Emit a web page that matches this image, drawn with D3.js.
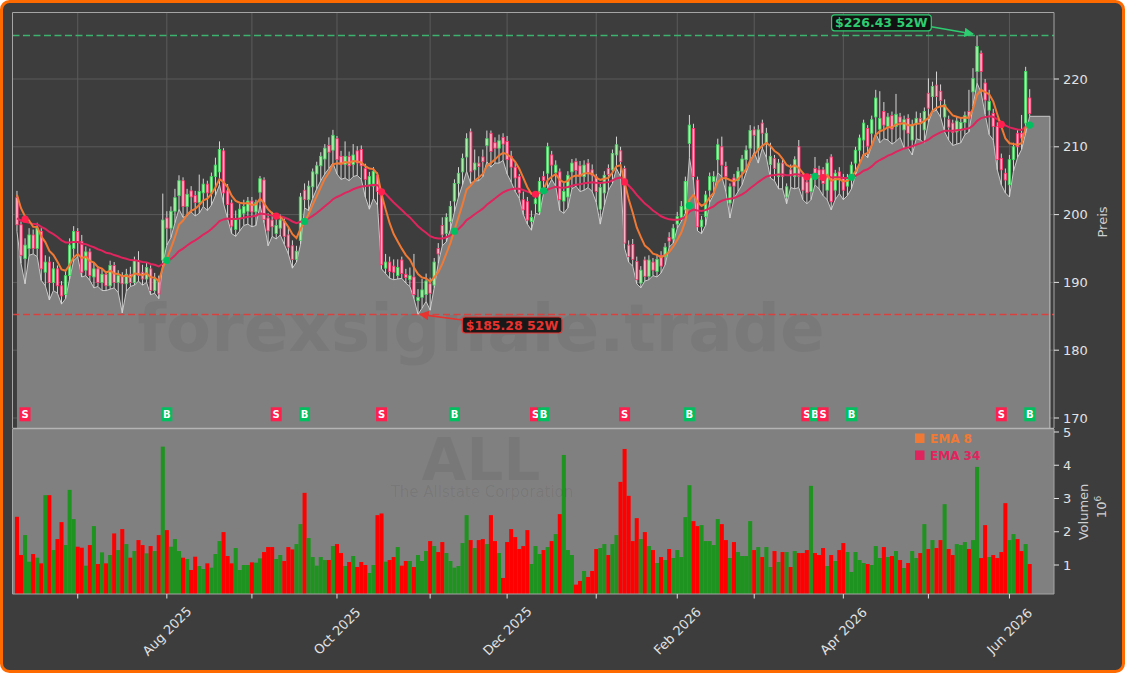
<!DOCTYPE html>
<html>
<head>
<meta charset="utf-8">
<title>ALL - The Allstate Corporation</title>
<script src="https://d3js.org/d3.v7.min.js"></script>
<style>
  body { margin: 0; background: #ffffff; font-family: "DejaVu Sans", sans-serif; }
  svg { display: block; }
</style>
</head>
<body>
<div id="chart"></div>
<script>
// daily OHLC + volume (10^6), Jun 9 2025 .. Jun 8 2026, one value per trading day
var open = [
  202.5,198.5,193.5,195,197,195,197.5,191.5,193,190,
  192,189.5,188.2,191,195,197.5,196,191.8,194.5,190.8,
  192,190,191.2,189.5,192.5,190,191,189.8,191.2,190,
  193.2,191.5,190.5,192,188.8,190.5,193.3,199.5,198,200.5,
  202.8,205,201.2,203.5,202.8,201.8,203.2,204.5,203.2,205.6,
  206.3,209.4,203.5,201.7,197.8,199.4,200.2,200.5,202,200.4,
  203.3,205.1,199.5,199.2,197.2,198,199,197,195.4,193.4,
  196.2,203.6,202.2,204.1,206,207.2,208.2,210.2,209.5,211.2,
  208.6,207.4,208.6,207.4,209.4,209.6,206.8,204.4,204.2,205.8,
  203.1,192.1,193,192.4,191,193.3,191.2,190.4,190.8,187.3,
  187.8,188.2,189.8,189.6,195,198.4,197.2,199,202,204.6,
  206.3,208.5,212.2,206.6,207.6,208.5,210.2,212,210.6,209.8,
  211.4,210.8,208.6,207,205.6,202.2,201.9,199,201.6,200.4,
  205.6,206.1,208.8,206.2,206.3,202,202.6,206.3,207.8,207.2,
  205.6,207.6,206.6,205.6,200.8,203.2,206.8,206.6,208.8,209.4,
  206.8,195.5,195.6,193.1,189.9,193.3,190.9,193,191.6,194,
  193.8,196.6,196.4,198.6,199.6,200.7,210.5,212.7,205.1,198.2,
  199.7,203.6,204.9,208.1,210,207.1,201.7,205.4,205,206.4,
  208.1,209.8,212.5,209.5,213.5,210.4,207.4,208.3,205.6,207.6,
  202.6,206.6,205.6,210,205.6,204.8,203.4,206.8,206.6,206.6,
  203.6,208.5,203.6,206.3,205.4,204.2,205.4,207.6,209.5,211,
  212.7,212,214.4,212.6,215.2,213,214.6,213,214.4,212.5,
  214.2,211,213.4,214.2,212.5,217.9,217.4,219.1,218.2,214.4,
  214,213.5,212.2,212.4,213.6,215.2,218.1,221.1,223.8,219.4,
  215.4,214.9,213,208.3,206.1,204.4,208.1,212,212,213.5,
  217.2
];
var high = [
  203.5,199,196.5,198,197.8,198.8,198,194,193.8,193,
  192.5,190.2,191.8,196.5,198.3,198,197,195.3,195,193,
  192.4,192,191.6,193.2,193,191.8,191.5,192,192.3,193.8,
  194.6,192.6,193,192.5,191.4,191,203.1,200.5,201.2,203.8,
  205.8,205.5,203.8,204.2,203.5,205.9,205.3,205,206.2,208.4,
  210.8,209.8,204.5,202.2,200.6,201.6,202.2,202.6,202.6,202.2,
  205.7,205.5,200.2,200.4,199.8,200,199.6,198.2,196.2,195.4,
  203.2,204.6,205,206.8,207.8,209.2,210.4,211.4,212.5,211.6,
  209.4,210.8,209.3,210.4,210.1,210.2,207.5,206.3,207,206.2,
  203.6,194.2,193.8,193.4,193.4,193.8,192,192.2,194.2,189,
  190.5,191.3,190.7,193.6,195.8,199.6,200.2,202,205.2,207,
  209,212,212.7,209.6,208.6,209.6,212.4,212.4,211.4,211.8,
  212,211.6,209.4,207.8,206,203.4,202.6,200.6,203,205.5,
  206.4,210.6,209.4,208,206.8,204.8,206.4,208.2,208.3,207.9,
  208,208.2,207.4,206,204.6,206.4,207.4,209.6,211.5,210,
  207.2,196.2,196.4,193.8,192.4,193.8,194,193.6,194.2,194.6,
  195.8,197.4,198.6,200.4,202,205.6,214.7,213.4,205.6,199.8,
  203.5,206.2,206.4,211.2,211.5,207.8,204.6,206,207,208.8,
  210.2,213.2,213,213.2,214,212.8,210.6,208.8,208.2,208.2,
  204.6,207.4,208.6,211,206.2,205.2,206,208.5,207.2,207,
  208.2,208.9,206.6,207,206,206,207.8,210,211.8,214,
  213.2,214.6,218.4,218.2,216.6,215,215.2,217.8,215,214.6,
  214.8,214,215.2,215,215.8,220.1,219.6,221.1,219.2,217,
  214.6,214,214.4,214.3,215.2,218.4,221.6,226.43,224.2,220,
  218.4,215.6,213.6,209,206.8,208.8,210.6,212.6,214.7,221.8,
  218.5
];
var low = [
  197.5,192.8,189.8,194,194.2,193.8,190.3,189.5,187.4,188.8,
  188.4,186.8,187.6,190.5,193.2,193.8,190.8,191,190.3,189.2,
  189.4,188.8,188.8,189,189.2,188.5,185.5,188.7,189.4,189.6,
  190.2,189.6,190,188.2,188.4,187.6,192.8,195.5,196.6,198.8,
  200.8,199.6,199.8,200.4,199.8,200.2,201.2,200.6,201.4,202.8,
  204.4,201.6,199.4,197.2,196.8,197.6,198.4,198.6,198.2,198.4,
  201.4,198.8,195.4,196.8,196.4,197,195.6,194.2,192.1,193,
  195.6,201,200.6,202.4,203.8,205,206,206.8,207.6,206,
  205.2,205.4,205,205.6,205.8,205.2,202.6,200.8,202.4,201.4,
  192,191.3,190.6,190.4,190.5,190.6,189.9,189.4,187.6,185.28,
  186.2,187.2,185.9,189.2,192.8,195.4,196,197.8,200.4,202.6,
  204.4,206.4,204.6,205,205,205.6,207.8,207,207.6,207.6,
  208,206,204.8,203.4,202.4,200,198.6,197.7,200.2,200,
  203.2,204,205.2,204.2,200.6,200.2,201,203.8,204.2,203.4,
  203.6,204,203.4,201.8,198.6,201.4,203.6,204.6,206.8,205.6,
  195,193,192.4,189.8,189.2,190.2,190.4,191,190.8,191.4,
  192.6,195.2,195.8,198,199,200.2,208.4,205,197.6,197.2,
  198.4,201.8,203,206.2,205.6,203.4,199.5,202.4,203.4,204.4,
  206.2,207.8,209.2,207.6,209.8,208.4,205.4,205,203.8,203.8,
  201.6,204,203.8,204,202.2,201.6,202.2,204.4,203.8,202.8,
  202.2,200.7,202.2,203.1,202.2,202.8,203.8,205.8,207.6,209,
  208.4,210.2,212,210.6,211.2,211,210.4,210.8,211.4,209.8,
  209.8,208.8,211.2,211,210.6,213.6,215.2,215.4,214.4,212.2,
  211,210.2,210.4,210.6,211.8,212.2,216,219.4,218,214.8,
  211.8,211,206.6,204.4,203.2,202.6,206.4,208.4,209.6,212,
  214.5
];
var close = [
  198.5,194,195.5,197,195,198,192,193,190,192,
  189.5,188,191,195.5,197.5,196,191.5,194.5,191,192,
  190,191.2,189.5,192.5,190,191,189.8,191.2,190,193.2,
  191,190.5,192.2,188.8,190.5,188.3,199.2,198,200.5,202.5,
  205,201.2,203,202.6,201.8,203.4,204.5,203.2,205.6,207.3,
  209.6,203.2,201.5,198.3,199.4,200.8,201.2,202,200.4,201.8,
  205.3,199.3,197.6,198.2,198.4,199.2,196.8,195.2,193.4,194.6,
  202.6,202.2,204.2,206.3,207.2,208.6,209.8,209.2,211.7,208.1,
  207.4,208.6,207.2,208.8,207.6,207.2,205.2,205.6,206.4,203.4,
  192.6,193,191.6,191.5,192.2,191.3,190.7,191,188.2,187.8,
  188.9,190.2,188.4,193,194.2,197,199.6,201.2,204.6,206.1,
  208.3,211.2,206.3,207.6,207.1,207.8,211.2,209.3,209.8,210.9,
  210.4,208.1,207,205.4,203.2,200.7,199.2,199.6,202.3,204.9,
  205,210,207.3,207.3,202.2,203.4,205.8,207.6,206.5,205.6,
  207.3,206.2,205.8,203.4,204,205.8,205.9,209,210.3,207.8,
  195.8,193.8,193.4,190.4,191.8,190.9,193.3,191.8,193.4,192.4,
  195.2,196.1,198,199.7,201.2,204.9,213.2,205.6,198.2,199.2,
  202.9,205.6,205.6,210.3,207.3,205.6,204.1,204.2,206.4,208.2,
  209.5,212.4,211.7,212.5,212,212,208.6,206.8,207.6,205.6,
  204.1,205.9,208.1,205.6,203.6,203.2,205.5,206.1,205.4,204.6,
  207.6,201.9,206.1,205.3,203.6,205.4,207.3,209.5,211.3,213.5,
  210.1,214,217.2,214.2,213.2,214.4,212.6,214.8,213.6,214,
  212,213.2,214.2,213.6,215.2,215.7,218.9,217.4,216.8,216.2,
  212.9,212.1,213.8,213.6,214.6,214.2,220.1,224.8,221.1,216.9,
  216.7,213,208.1,206.6,205.1,208.1,210,210,211.3,221.1,
  214.9
];
var volume = [
  2.45,1.3,1.9,1.1,1.33,1.22,1.05,3.1,3.1,1.45,
  1.78,2.29,1.6,3.26,2.38,1.55,1.52,0.98,1.6,2.17,
  1.03,1.38,1.05,1.3,1.95,1.45,2.08,1.63,1.22,1.42,
  1.75,1.6,1.35,1.57,1.42,1.9,4.56,2.05,1.55,1.78,
  1.42,1.22,1.18,0.85,1.25,0.97,0.88,1.05,0.92,1.33,
  1.72,1.99,1.27,1.05,1.51,0.85,1.0,1.0,1.08,1.07,
  1.2,1.39,1.54,1.54,1.18,1.3,1.12,1.54,1.47,1.63,
  2.23,3.17,1.81,1.24,0.98,1.24,1.15,1.15,1.57,1.63,
  1.36,0.97,1.09,1.27,0.94,1.09,1.0,0.76,1.0,2.5,
  2.55,1.1,1.15,1.24,1.54,0.98,1.12,1.12,0.94,1.3,
  1.12,1.42,1.72,1.57,1.39,1.69,1.36,1.12,0.92,0.97,
  1.66,2.5,1.75,1.51,1.75,1.78,1.63,2.5,1.72,1.36,
  0.61,1.69,2.08,1.84,1.48,1.57,2.05,1.03,1.57,1.33,
  1.45,1.54,1.72,1.93,2.53,4.31,1.45,1.3,0.41,0.52,
  0.82,0.64,0.82,1.48,1.51,1.63,1.3,1.63,1.9,3.5,
  4.49,3.08,1.72,2.41,1.78,1.99,1.57,1.45,1.06,1.24,
  1.15,1.48,1.21,1.45,1.24,2.44,3.4,2.32,2.17,2.2,
  1.72,1.72,1.6,2.38,2.23,1.75,1.21,1.69,1.39,1.27,
  1.27,2.32,1.45,1.54,1.24,1.54,0.94,1.42,1.09,1.39,
  1.39,0.94,1.42,1.36,1.36,1.45,3.38,1.36,1.3,1.51,
  0.97,1.3,1.12,1.45,1.66,1.39,0.79,1.39,1.15,1.06,
  1.03,1.0,1.57,1.21,1.54,1.24,1.27,1.42,1.15,0.91,
  1.06,1.42,1.21,1.36,2.23,1.48,1.75,1.51,1.75,2.83,
  1.48,1.3,1.63,1.6,1.69,1.48,1.75,3.95,1.21,2.2,
  1.24,1.3,1.21,1.39,2.86,1.75,1.93,1.78,1.42,1.63,
  1.03
];

// EMA state carried in from before the visible window
var ema8Seed = 204.2, ema34Seed = 199.5;

// crossover signals (bar index, type)
var sigIdx = [2, 37, 64, 71, 90, 108, 128, 130, 150, 166, 195, 197, 199, 206, 243, 250];
var sigType = ["S","B","S","B","S","B","S","B","S","B","S","B","S","B","S","B"];

// month ticks (bar index of first trading day) and labels
var monthIdx = [15, 37, 58, 79, 102, 121, 143, 163, 182, 204, 225, 245];
var monthLabels = ["", "Aug 2025", "", "Oct 2025", "", "Dec 2025", "", "Feb 2026", "", "Apr 2026", "", "Jun 2026"];

var priceTicks = [170, 180, 190, 200, 210, 220];
var volTicks = [1, 2, 3, 4, 5];

var W = 1125, H = 673;
var pane = {left: 12.5, right: 1054, top: 12.5, bottom: 428};
var vpane = {top: 429, bottom: 594};

var col = {
    bg: "#3d3d3d", grid: "#5b5b5b", area: "#808080", areaLine: "#c9c9c9",
    ema8: "#f07a35", ema34: "#e0245e", sell: "#ff1f4f", buy: "#00c060",
    volUp: "#1f931f", volDown: "#ff0000", text: "#e2e2e2"
};

var svg = d3.select("#chart").append("svg")
    .attr("width", W)
    .attr("height", H)
    .style("font-family", "'DejaVu Sans', sans-serif");

var defs = svg.append("defs");
defs.append("clipPath").attr("id", "clipP").append("rect")
    .attr("x", pane.left).attr("y", pane.top)
    .attr("width", pane.right - pane.left).attr("height", pane.bottom - pane.top);
defs.append("clipPath").attr("id", "clipV").append("rect")
    .attr("x", pane.left).attr("y", vpane.top)
    .attr("width", pane.right - pane.left).attr("height", vpane.bottom - vpane.top);

function arrowMarker(id, color) {
    defs.append("marker")
        .attr("id", id)
        .attr("viewBox", "0 0 10 10")
        .attr("refX", 9).attr("refY", 5)
        .attr("markerWidth", 6).attr("markerHeight", 6)
        .attr("orient", "auto")
        .append("path").attr("d", "M0,0 L10,5 L0,10 z").attr("fill", color);
}
arrowMarker("arrG", "#2ecc71");
arrowMarker("arrR", "#e8332f");

// frame
svg.append("rect")
    .attr("x", 1.5).attr("y", 1.5)
    .attr("width", W - 3).attr("height", H - 3)
    .attr("rx", 8)
    .attr("fill", col.bg)
    .attr("stroke", "#ff6a00")
    .attr("stroke-width", 3);

var x = d3.scaleLinear().domain([-1.1, 256]).range([pane.left, pane.right]);
var step = x(1) - x(0);
var y = d3.scaleLinear().domain([168.525, 229.81]).range([pane.bottom, pane.top]);
var yv = d3.scaleLinear().domain([0.128, 5.09]).range([vpane.bottom, vpane.top]);

// EMAs
function ema(values, n, seed) {
    var a = 2 / (n + 1), prev = seed;
    return values.map(function (v) {
        prev = prev + a * (v - prev);
        return prev;
    });
}
var ema8 = ema(close, 8, ema8Seed);
var ema34 = ema(close, 34, ema34Seed);

// ---------- price panel ----------
var gP = svg.append("g").attr("clip-path", "url(#clipP)");

gP.selectAll(".hgrid").data(priceTicks).enter().append("line")
    .attr("x1", pane.left).attr("x2", pane.right)
    .attr("y1", function (d) { return y(d); })
    .attr("y2", function (d) { return y(d); })
    .attr("stroke", col.grid).attr("stroke-width", 1);

gP.selectAll(".vgrid").data(monthIdx).enter().append("line")
    .attr("x1", function (d) { return x(d); })
    .attr("x2", function (d) { return x(d); })
    .attr("y1", pane.top).attr("y2", pane.bottom)
    .attr("stroke", col.grid).attr("stroke-width", 1);

// grey area under the lows, held flat to the right after the last bar
var lowPts = low.map(function (v, i) { return [x(i), y(v)]; });
lowPts.push([x(255), y(low[low.length - 1])]);

gP.append("path")
    .datum(lowPts)
    .attr("fill", col.area)
    .attr("d", d3.area().x(function (d) { return d[0]; }).y0(pane.bottom).y1(function (d) { return d[1]; }));

gP.append("path")
    .datum(lowPts.concat([[x(255), pane.bottom]]))
    .attr("fill", "none")
    .attr("stroke", col.areaLine)
    .attr("stroke-width", 1)
    .attr("d", d3.line());

// watermark
gP.append("text")
    .attr("x", 481).attr("y", 351)
    .attr("text-anchor", "middle")
    .attr("font-size", 66).attr("font-weight", "bold")
    .attr("fill", "#000").attr("fill-opacity", 0.055)
    .text("forexsignale.trade");

// 52 week high / low
var hiI = d3.maxIndex(high), loI = d3.minIndex(low);
var hiV = high[hiI], loV = low[loI];

gP.append("line")
    .attr("x1", pane.left).attr("x2", pane.right)
    .attr("y1", y(hiV)).attr("y2", y(hiV))
    .attr("stroke", "#3cb36e").attr("stroke-width", 1.5)
    .attr("stroke-dasharray", "7,3.5");
gP.append("line")
    .attr("x1", pane.left).attr("x2", pane.right)
    .attr("y1", y(loV)).attr("y2", y(loV))
    .attr("stroke", "#d9413f").attr("stroke-width", 1.5)
    .attr("stroke-dasharray", "7,3.5");

// candles
var idx = d3.range(close.length);
var bw = step * 0.62;
gP.selectAll(".wick").data(idx).enter().append("line")
    .attr("x1", function (i) { return x(i); })
    .attr("x2", function (i) { return x(i); })
    .attr("y1", function (i) { return y(high[i]); })
    .attr("y2", function (i) { return y(low[i]); })
    .attr("stroke", "#d6d6d6").attr("stroke-width", 1);

gP.selectAll(".body").data(idx).enter().append("rect")
    .attr("x", function (i) { return x(i) - bw / 2; })
    .attr("width", bw)
    .attr("y", function (i) { return y(Math.max(open[i], close[i])); })
    .attr("height", function (i) { return Math.max(1, Math.abs(y(open[i]) - y(close[i]))); })
    .attr("fill", function (i) { return close[i] >= open[i] ? "#a8efa8" : "#ffb0c4"; })
    .attr("stroke", function (i) { return close[i] >= open[i] ? "#3fd45f" : "#ff2d6a"; })
    .attr("stroke-width", 0.8);

// EMA lines
var line = d3.line().x(function (d, i) { return x(i); }).y(function (d) { return y(d); });
gP.append("path").datum(ema34).attr("fill", "none")
    .attr("stroke", col.ema34).attr("stroke-width", 2).attr("d", line);
gP.append("path").datum(ema8).attr("fill", "none")
    .attr("stroke", col.ema8).attr("stroke-width", 2).attr("d", line);

// crossover dots
gP.selectAll(".sigdot").data(sigIdx).enter().append("circle")
    .attr("cx", function (i) { return x(i); })
    .attr("cy", function (i) { return y((ema8[i] + ema34[i]) / 2); })
    .attr("r", 3.6)
    .attr("fill", function (i, k) { return sigType[k] == "S" ? col.sell : col.buy; });

// S / B markers along the bottom
var sig = gP.selectAll(".sig").data(sigIdx).enter().append("g");
sig.append("rect")
    .attr("x", function (i) { return x(i) - 5.5; })
    .attr("y", 407.3)
    .attr("width", 11).attr("height", 14)
    .attr("fill", function (i, k) { return sigType[k] == "S" ? col.sell : col.buy; });
sig.append("text")
    .attr("x", function (i) { return x(i); })
    .attr("y", 418.2)
    .attr("text-anchor", "middle")
    .attr("font-size", 10).attr("font-weight", "bold")
    .attr("fill", "#fff")
    .text(function (i, k) { return sigType[k]; });

// price labels for the 52W extremes
function annotate(i, v, dx, dy, color, marker, label, fromRight) {
    var px = x(i), py = y(v);
    var g = svg.append("g");
    var t = g.append("text")
        .attr("x", px + dx).attr("y", py + dy)
        .attr("dy", "0.36em")
        .attr("text-anchor", "middle")
        .attr("font-size", 12.5).attr("font-weight", "bold")
        .attr("fill", color)
        .text(label);
    var bb = t.node().getBBox();
    g.insert("rect", "text")
        .attr("x", bb.x - 3.5).attr("y", bb.y - 0.5)
        .attr("width", bb.width + 7).attr("height", bb.height + 1)
        .attr("rx", 3)
        .attr("fill", "#0d0d0d").attr("fill-opacity", 0.9)
        .attr("stroke", color).attr("stroke-width", 1.2);
    var sx = fromRight ? bb.x + bb.width + 3.5 : bb.x - 3.5;
    var sy = fromRight ? py + dy + 4 : py + dy - 5;
    g.append("line")
        .attr("x1", sx).attr("y1", sy)
        .attr("x2", fromRight ? px - 4 : px + 2).attr("y2", fromRight ? py - 1.5 : py)
        .attr("stroke", color).attr("stroke-width", 1.6)
        .attr("marker-end", "url(#" + marker + ")");
}
annotate(hiI, hiV, -95.7, -12.6, "#2ecc71", "arrG", "$" + hiV.toFixed(2) + " 52W", true);
annotate(loI, loV, 94, 10.6, "#e8332f", "arrR", "$" + loV.toFixed(2) + " 52W", false);

// price panel frame
svg.append("path")
    .attr("d", "M" + pane.left + "," + pane.bottom + "V" + pane.top + "H" + pane.right + "V" + pane.bottom)
    .attr("fill", "none").attr("stroke", "#a5a5a5").attr("stroke-width", 1);

// price axis (right)
var gy = svg.append("g");
gy.selectAll("line").data(priceTicks).enter().append("line")
    .attr("x1", pane.right).attr("x2", pane.right + 5)
    .attr("y1", function (d) { return y(d); })
    .attr("y2", function (d) { return y(d); })
    .attr("stroke", col.text);
gy.selectAll("text").data(priceTicks).enter().append("text")
    .attr("x", pane.right + 9)
    .attr("y", function (d) { return y(d); })
    .attr("dy", "0.36em")
    .attr("font-size", 13)
    .attr("fill", col.text)
    .text(function (d) { return d; });
svg.append("text")
    .attr("transform", "translate(1107,222) rotate(-90)")
    .attr("text-anchor", "middle")
    .attr("font-size", 13)
    .attr("fill", "#cfcfcf")
    .text("Preis");

// ---------- volume panel ----------
svg.append("rect")
    .attr("x", pane.left).attr("y", vpane.top)
    .attr("width", pane.right - pane.left).attr("height", vpane.bottom - vpane.top)
    .attr("fill", col.area);

var gV = svg.append("g").attr("clip-path", "url(#clipV)");
gV.selectAll(".vol").data(idx).enter().append("rect")
    .attr("x", function (i) { return x(i) - step / 2; })
    .attr("width", step)
    .attr("y", function (i) { return yv(volume[i]); })
    .attr("height", function (i) { return vpane.bottom - yv(volume[i]); })
    .attr("fill", function (i) { return close[i] >= open[i] ? col.volUp : col.volDown; });

gV.append("text")
    .attr("x", 481).attr("y", 480)
    .attr("text-anchor", "middle")
    .attr("font-size", 58).attr("font-weight", "bold")
    .attr("fill", "#000").attr("fill-opacity", 0.06)
    .text("ALL");
gV.append("text")
    .attr("x", 482).attr("y", 497)
    .attr("text-anchor", "middle")
    .attr("font-size", 15)
    .attr("fill", "#000").attr("fill-opacity", 0.07)
    .text("The Allstate Corporation");

// legend
var legend = svg.append("g");
[["EMA 8", col.ema8], ["EMA 34", col.ema34]].forEach(function (d, k) {
    legend.append("rect")
        .attr("x", 915).attr("y", 433.5 + k * 17)
        .attr("width", 9.5).attr("height", 9.5)
        .attr("fill", d[1]);
    legend.append("text")
        .attr("x", 930).attr("y", 438.5 + k * 17)
        .attr("dy", "0.36em")
        .attr("font-size", 12).attr("font-weight", "bold")
        .attr("fill", d[1])
        .text(d[0]);
});

// separators / frame
svg.append("line")
    .attr("x1", pane.left).attr("x2", pane.right)
    .attr("y1", 428.5).attr("y2", 428.5)
    .attr("stroke", "#b4b4b4").attr("stroke-width", 1.5);
svg.append("path")
    .attr("d", "M" + pane.left + "," + vpane.top + "V" + vpane.bottom + "H" + pane.right + "V" + vpane.top)
    .attr("fill", "none").attr("stroke", "#a5a5a5").attr("stroke-width", 1);

// volume axis (right)
var gvy = svg.append("g");
gvy.selectAll("line").data(volTicks).enter().append("line")
    .attr("x1", pane.right).attr("x2", pane.right + 5)
    .attr("y1", function (d) { return yv(d); })
    .attr("y2", function (d) { return yv(d); })
    .attr("stroke", col.text);
gvy.selectAll("text").data(volTicks).enter().append("text")
    .attr("x", pane.right + 9)
    .attr("y", function (d) { return yv(d); })
    .attr("dy", "0.36em")
    .attr("font-size", 13)
    .attr("fill", col.text)
    .text(function (d) { return d; });
svg.append("text")
    .attr("transform", "translate(1088,512) rotate(-90)")
    .attr("text-anchor", "middle")
    .attr("font-size", 13)
    .attr("fill", "#cfcfcf")
    .text("Volumen");
var tExp = svg.append("text")
    .attr("transform", "translate(1106,507) rotate(-90)")
    .attr("text-anchor", "middle")
    .attr("font-size", 13)
    .attr("fill", "#cfcfcf");
tExp.append("tspan").text("10");
tExp.append("tspan").attr("dy", -5).attr("font-size", 9).text("6");

// x axis (months)
var gx = svg.append("g");
gx.selectAll("line").data(monthIdx).enter().append("line")
    .attr("x1", function (d) { return x(d); })
    .attr("x2", function (d) { return x(d); })
    .attr("y1", vpane.bottom).attr("y2", vpane.bottom + 4.5)
    .attr("stroke", col.text);
gx.selectAll("text").data(monthIdx).enter().append("text")
    .attr("transform", function (d) { return "translate(" + x(d) + ",631) rotate(-45)"; })
    .attr("text-anchor", "middle")
    .attr("dy", "0.36em")
    .attr("font-size", 13)
    .attr("fill", col.text)
    .text(function (d, k) { return monthLabels[k]; });
</script>
</body>
</html>
